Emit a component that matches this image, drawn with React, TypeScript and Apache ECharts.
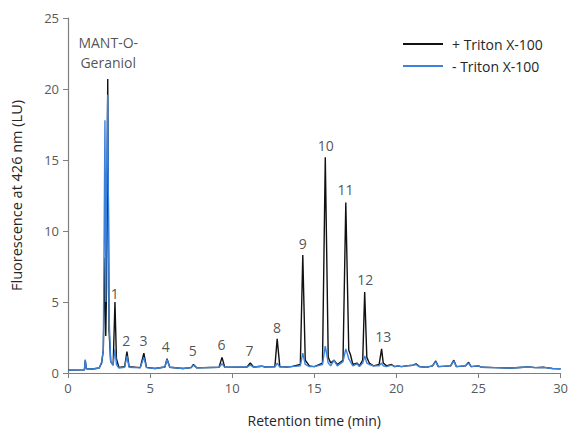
import React, { useEffect, useRef } from "react";
import * as echarts from "echarts";

// Retention time (min) and fluorescence (LU), + Triton X-100
const plusTime = [0, 1.0, 1.05, 1.12, 1.5, 1.9, 2.05, 2.15, 2.25, 2.3, 2.35, 2.42, 2.5, 2.6, 2.75, 2.86, 2.95, 3.1, 3.45, 3.59, 3.72, 4.4, 4.62, 4.78, 5.3, 5.9, 6.03, 6.2, 7.0, 7.5, 7.64, 7.85, 9.2, 9.38, 9.55, 10.9, 11.1, 11.3, 11.8, 12.0, 12.6, 12.74, 12.9, 13.3, 13.6, 14.15, 14.3, 14.45, 14.7, 15.0, 15.5, 15.67, 15.85, 16.0, 16.2, 16.4, 16.75, 16.92, 17.1, 17.2, 17.35, 17.6, 17.75, 17.95, 18.07, 18.2, 18.35, 18.6, 18.95, 19.1, 19.2, 19.4, 19.7, 19.9, 20.1, 20.3, 20.6, 21.0, 21.2, 21.4, 21.8, 22.2, 22.4, 22.55, 23.3, 23.5, 23.65, 24.2, 24.4, 24.55, 25.0, 25.2, 26.0, 27.0, 28.0, 28.5, 29.0, 29.5, 30.0];
const plusSignal = [0.2, 0.22, 0.9, 0.3, 0.28, 0.35, 0.7, 1.6, 8.1, 2.6, 6.2, 20.7, 3.0, 0.8, 0.55, 5.0, 1.0, 0.4, 0.45, 1.5, 0.45, 0.38, 1.4, 0.4, 0.32, 0.42, 1.0, 0.4, 0.32, 0.38, 0.6, 0.36, 0.4, 1.1, 0.4, 0.42, 0.7, 0.42, 0.48, 0.42, 0.45, 2.4, 0.45, 0.42, 0.45, 0.6, 8.3, 0.9, 0.5, 0.45, 0.7, 15.2, 1.1, 0.7, 0.9, 0.6, 0.9, 12.0, 1.6, 1.3, 0.6, 0.7, 0.5, 0.9, 5.7, 1.1, 0.7, 0.5, 0.6, 1.7, 0.7, 0.5, 0.6, 0.45, 0.5, 0.45, 0.5, 0.55, 0.65, 0.45, 0.4, 0.5, 0.85, 0.45, 0.5, 0.9, 0.45, 0.5, 0.75, 0.45, 0.5, 0.4, 0.38, 0.35, 0.42, 0.38, 0.4, 0.32, 0.3];

// - Triton X-100
const minusTime = plusTime;
const minusSignal = [0.2, 0.22, 0.95, 0.3, 0.28, 0.35, 0.8, 1.6, 17.8, 5.0, 14.0, 19.6, 4.0, 0.8, 0.55, 1.7, 0.6, 0.35, 0.4, 1.2, 0.4, 0.36, 1.1, 0.38, 0.32, 0.42, 0.95, 0.4, 0.32, 0.38, 0.55, 0.36, 0.4, 0.65, 0.4, 0.42, 0.55, 0.42, 0.48, 0.42, 0.42, 0.7, 0.42, 0.42, 0.45, 0.5, 1.4, 0.6, 0.45, 0.45, 0.6, 1.9, 0.7, 0.5, 0.9, 0.5, 0.8, 1.7, 1.0, 0.8, 0.5, 0.65, 0.45, 0.7, 1.2, 0.7, 0.6, 0.5, 0.5, 0.7, 0.5, 0.45, 0.55, 0.45, 0.5, 0.45, 0.5, 0.55, 0.6, 0.45, 0.4, 0.5, 0.8, 0.45, 0.5, 0.85, 0.45, 0.5, 0.7, 0.45, 0.5, 0.4, 0.38, 0.35, 0.42, 0.38, 0.4, 0.32, 0.3];

// Peak annotations (label anchor in data units)
const peakLabels = ["MANT-O-\nGeraniol", "1", "2", "3", "4", "5", "6", "7", "8", "9", "10", "11", "12", "13"];
const peakLabelTime = [2.45, 2.85, 3.55, 4.6, 5.95, 7.6, 9.35, 11.05, 12.73, 14.3, 15.7, 16.9, 18.1, 19.2];
const peakLabelValue = [22.6, 5.6, 2.26, 2.26, 1.9, 1.55, 2.0, 1.6, 3.2, 9.1, 16.0, 12.9, 6.55, 2.57];

const seriesNames = ["+ Triton X-100", "- Triton X-100"];
const xTicks = [0, 5, 10, 15, 20, 25, 30];
const yTicks = [0, 5, 10, 15, 20, 25];

const FONT = "'Open Sans', 'Noto Sans', sans-serif";

export default function App() {
  const ref = useRef<HTMLDivElement>(null);
  useEffect(() => {
    if (!ref.current) return;
    const chart = echarts.init(ref.current, undefined, { renderer: "svg" });
    const plusData = plusTime.map((t, i) => [t, plusSignal[i]]);
    const minusData = minusTime.map((t, i) => [t, minusSignal[i]]);
    const labelData = peakLabels.map((n, i) => ({ name: n, value: [peakLabelTime[i], peakLabelValue[i]] }));
    chart.setOption({
      animation: false,
      backgroundColor: "#ffffff",
      textStyle: { fontFamily: FONT },
      grid: { left: 68, right: 9, top: 18, bottom: 57, containLabel: false },
      legend: {
        orient: "vertical",
        left: 398,
        top: 32,
        itemWidth: 40,
        itemHeight: 2,
        itemGap: 8,
        icon: "rect",
        data: seriesNames,
        textStyle: { fontFamily: FONT, fontSize: 14, color: "#262626", padding: [0, 0, 0, 4] },
      },
      xAxis: {
        type: "value",
        min: xTicks[0],
        max: xTicks[xTicks.length - 1],
        interval: 5,
        name: "Retention time (min)",
        nameLocation: "middle",
        nameGap: 40,
        nameTextStyle: { fontFamily: FONT, fontSize: 14, color: "#262626" },
        axisLine: { show: true, lineStyle: { color: "#7f7f7f", width: 1.2 } },
        axisTick: { show: true, length: 5, lineStyle: { color: "#7f7f7f" } },
        axisLabel: { fontFamily: FONT, fontSize: 13, color: "#595959", margin: 8 },
        splitLine: { show: false },
      },
      yAxis: {
        type: "value",
        min: yTicks[0],
        max: yTicks[yTicks.length - 1],
        interval: 5,
        name: "Fluorescence at 426 nm (LU)",
        nameLocation: "middle",
        nameGap: 44,
        nameTextStyle: { fontFamily: FONT, fontSize: 14.5, color: "#262626" },
        axisLine: { show: true, lineStyle: { color: "#7f7f7f", width: 1.2 } },
        axisTick: { show: true, length: 5, lineStyle: { color: "#7f7f7f" } },
        axisLabel: { fontFamily: FONT, fontSize: 13, color: "#595959", margin: 9 },
        splitLine: { show: false },
      },
      series: [
        {
          name: seriesNames[0],
          type: "line",
          data: plusData,
          showSymbol: false,
          symbol: "none",
          lineStyle: { color: "#111111", width: 1.4 },
          itemStyle: { color: "#111111" },
        },
        {
          name: seriesNames[1],
          type: "line",
          data: minusData,
          showSymbol: false,
          symbol: "none",
          lineStyle: { color: "#3b82dc", width: 1.4 },
          itemStyle: { color: "#3b82dc" },
        },
        {
          name: "labels",
          type: "scatter",
          data: labelData,
          symbolSize: 0,
          silent: true,
          label: {
            show: true,
            position: "inside",
            formatter: (p: any) => p.name,
            fontFamily: FONT,
            fontSize: 14,
            lineHeight: 20,
            color: "#262626",
          },
        },
      ],
    });
    return () => chart.dispose();
  }, []);
  return <div ref={ref} style={{ width: 571, height: 432, position: "absolute", left: 0, top: 0 }} />;
}
